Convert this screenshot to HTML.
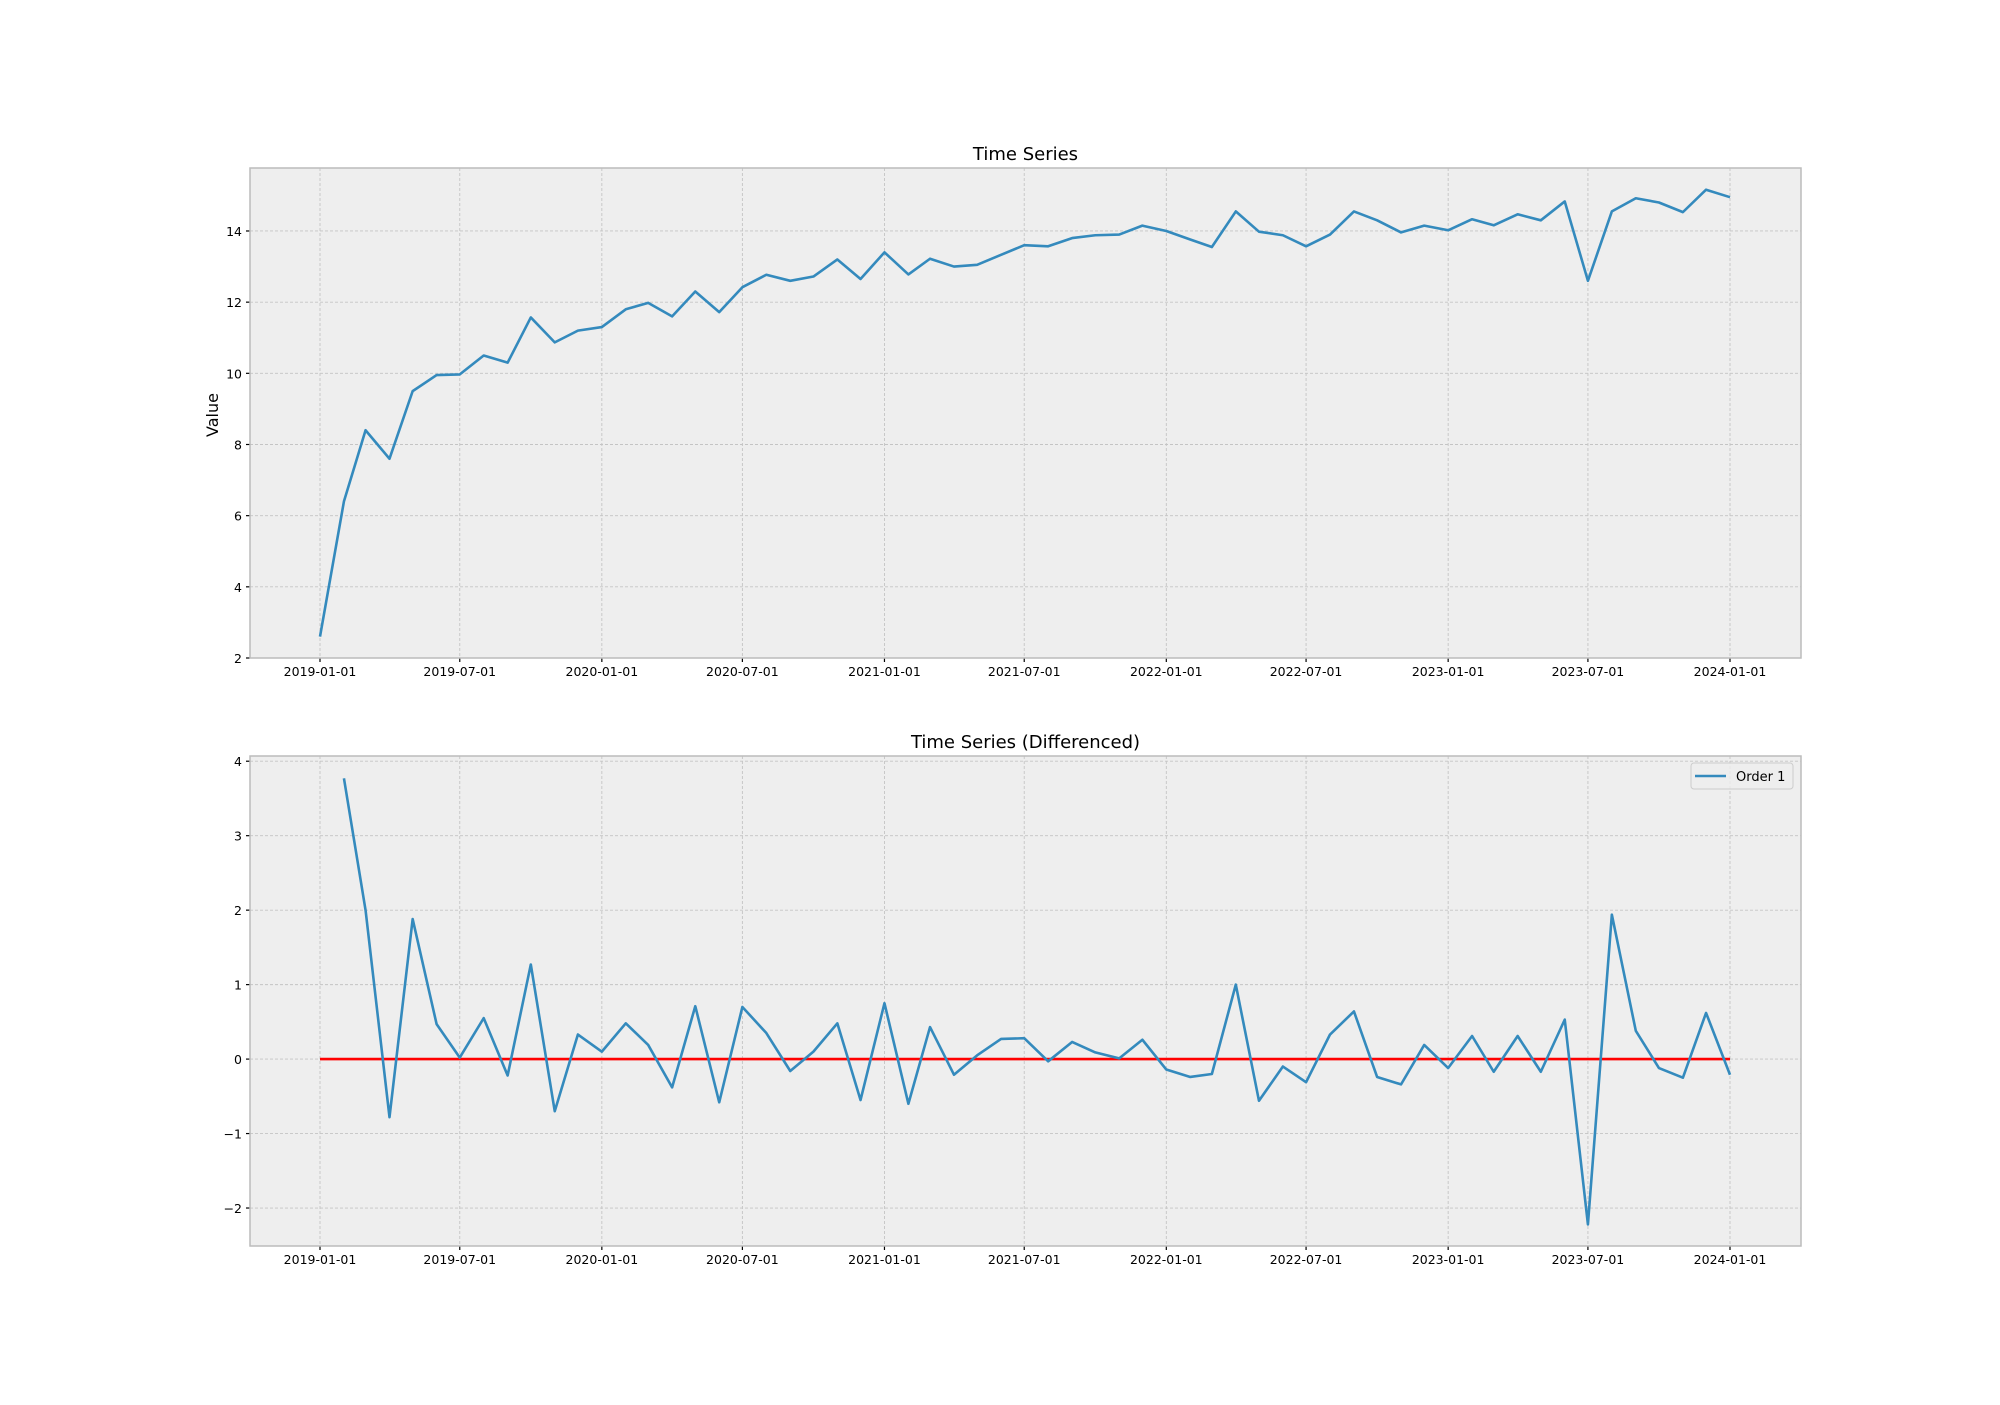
<!DOCTYPE html>
<html><head><meta charset="utf-8">
<style>
html,body{margin:0;padding:0;background:#fff;}
svg text{font-family:"DejaVu Sans","Liberation Sans",sans-serif;fill:#000;}
</style></head>
<body>
<svg id="chart" width="2000" height="1400" viewBox="0 0 2000 1400" xmlns="http://www.w3.org/2000/svg"></svg>
<script>
const levelValues = [2.6,6.4,8.4,7.6,9.5,9.95,9.97,10.5,10.3,11.57,10.87,11.2,
 11.3,11.8,11.98,11.6,12.3,11.72,12.42,12.77,12.6,12.72,13.2,12.65,
 13.4,12.78,13.22,13.0,13.05,13.33,13.6,13.57,13.8,13.88,13.9,14.15,
 14.0,13.76,13.55,14.55,13.98,13.88,13.57,13.9,14.55,14.3,13.96,14.15,
 14.02,14.33,14.16,14.47,14.3,14.83,12.6,14.55,14.92,14.8,14.53,15.16,14.95];
const diffValues = [3.77,2.0,-0.78,1.88,0.47,0.02,0.55,-0.22,1.27,-0.7,0.33,
 0.1,0.48,0.19,-0.38,0.71,-0.58,0.7,0.35,-0.16,0.1,0.48,-0.55,
 0.75,-0.6,0.43,-0.21,0.05,0.27,0.28,-0.03,0.23,0.09,0.01,0.26,
 -0.14,-0.24,-0.2,1.0,-0.56,-0.1,-0.31,0.33,0.64,-0.24,-0.34,0.19,
 -0.12,0.31,-0.17,0.31,-0.17,0.53,-2.22,1.94,0.38,-0.12,-0.25,0.62,-0.21];
const xTickLabels = ["2019-01-01","2019-07-01","2020-01-01","2020-07-01","2021-01-01","2021-07-01","2022-01-01","2022-07-01","2023-01-01","2023-07-01","2024-01-01"];
const topYTicks = [2,4,6,8,10,12,14];
const bottomYTicks = [-2,-1,0,1,2,3,4];

const NS="http://www.w3.org/2000/svg";
const svg=document.getElementById('chart');
function el(tag,attrs,parent){const e=document.createElementNS(NS,tag);for(const k in attrs)e.setAttribute(k,attrs[k]);(parent||svg).appendChild(e);return e;}
function monthDate(i){return Date.UTC(2019,i,1);}
const d0=Date.UTC(2019,0,1), d1=Date.UTC(2024,0,1);
const X0=320,X1=1730;
function xScale(t){return X0+(t-d0)/(d1-d0)*(X1-X0);}
function tickDate(s){const p=s.split('-');return Date.UTC(+p[0],+p[1]-1,+p[2]);}

function drawAxes(name,top,bottom,ymin,ymax,yTicks,fmt,title){
  const L=250,R=1801;
  const y=v=>bottom-(v-ymin)/(ymax-ymin)*(bottom-top);
  const g=el('g',{});
  
  
  const bg=el('rect',{x:L,y:top,width:R-L,height:bottom-top,fill:'#eeeeee'},g);
  
  
  xTickLabels.forEach(s=>{
    const x=xScale(tickDate(s));
    el('line',{x1:x,x2:x,y1:top,y2:bottom,stroke:'#c4c4c4','stroke-width':0.9,'stroke-dasharray':'3,2'},g);
    el('line',{x1:x,x2:x,y1:bottom,y2:bottom+4,stroke:'#000','stroke-width':1.2},g);
    const t=el('text',{x:x,y:bottom+18,'font-size':12.5,'text-anchor':'middle'},g);
    t.textContent=s;
    
    
  });
  yTicks.forEach(v=>{
    const yy=y(v);
    el('line',{x1:L,x2:R,y1:yy,y2:yy,stroke:'#c4c4c4','stroke-width':0.9,'stroke-dasharray':'3,2'},g);
    el('line',{x1:L-4,x2:L,y1:yy,y2:yy,stroke:'#000','stroke-width':1.2},g);
    const t=el('text',{x:L-8,y:yy+5,'font-size':12.5,'text-anchor':'end'},g);
    t.textContent=fmt(v);
    
    
  });
  const border=el('rect',{x:L,y:top,width:R-L,height:bottom-top,fill:'none',stroke:'#bcbcbc','stroke-width':1.5},g);
  
  
  const tt=el('text',{x:(L+R)/2,y:top-8,'font-size':18,'text-anchor':'middle'},g);
  tt.textContent=title;
  
  
  return y;
}

const yTop=drawAxes('time-series-axes',168,658,2,15.77,topYTicks,v=>String(v),'Time Series');
const yl=el('text',{x:0,y:0,'font-size':16,'text-anchor':'middle',transform:'translate(218,415) rotate(-90)'});
yl.textContent='Value';


const p1=el('polyline',{points:levelValues.map((v,i)=>xScale(monthDate(i))+','+yTop(v)).join(' '),fill:'none',stroke:'#348ABD','stroke-width':2.6,'stroke-linejoin':'round'});



const yBot=drawAxes('differenced-axes',756,1246,-2.51,4.07,bottomYTicks,v=>v<0?'\u2212'+Math.abs(v):String(v),'Time Series (Differenced)');
const zl=el('line',{x1:xScale(d0),x2:xScale(d1),y1:yBot(0),y2:yBot(0),stroke:'#ff0000','stroke-width':2.6});


const p2=el('polyline',{points:diffValues.map((v,i)=>xScale(monthDate(i+1))+','+yBot(v)).join(' '),fill:'none',stroke:'#348ABD','stroke-width':2.6,'stroke-linejoin':'round'});



const lg=el('g',{});


el('rect',{x:1691,y:763,width:102,height:26,rx:3,fill:'#eeeeee','fill-opacity':0.8,stroke:'#cccccc','stroke-width':1},lg);
const ll=el('line',{x1:1695,x2:1726,y1:776,y2:776,stroke:'#348ABD','stroke-width':2.6},lg);


const lt=el('text',{x:1736,y:781,'font-size':13},lg);
lt.textContent='Order 1';


</script>
</body></html>
